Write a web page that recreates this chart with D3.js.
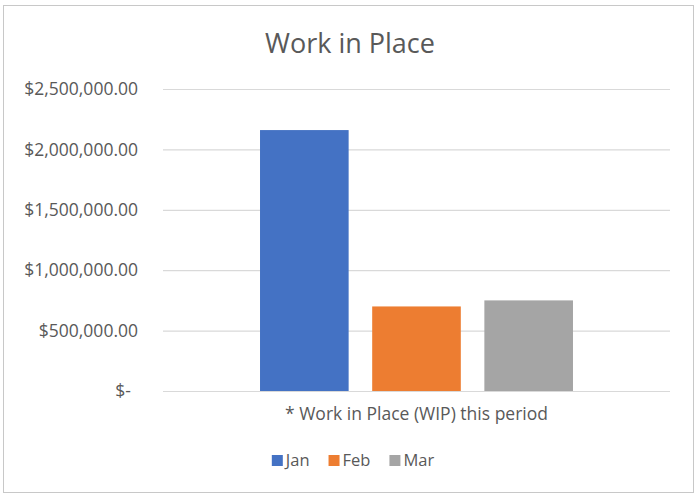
<!DOCTYPE html>
<html>
<head>
<meta charset="utf-8">
<script src="https://d3js.org/d3.v7.min.js"></script>
<style>
  body { margin: 0; background: #fff; }
  text { font-family: "Open Sans", sans-serif; fill: #595959; }
</style>
</head>
<body>
<div id="my_dataviz"></div>
<script>

// data
var category = "* Work in Place (WIP) this period";
var months = ["Jan", "Feb", "Mar"];
var values = [2160000, 700000, 750000];
var colors = ["#4472C4", "#ED7D31", "#A5A5A5"];
var yTicks = [0, 500000, 1000000, 1500000, 2000000, 2500000];

var width = 695, height = 495;

var svg = d3.select("#my_dataviz")
  .append("svg")
    .attr("width", width)
    .attr("height", height);

// chart border
svg.append("rect")
  .attr("x", 3.5).attr("y", 5.5)
  .attr("width", 690).attr("height", 487)
  .attr("fill", "#fff")
  .attr("stroke", "#c8c8c8")
  .attr("stroke-width", 1);

// plot area
var plot = {left: 163, right: 670, top: 89, bottom: 391};

var y = d3.scaleLinear()
  .domain([0, 2500000])
  .range([plot.bottom, plot.top]);

var x0 = d3.scaleBand()
  .domain([category])
  .range([plot.left, plot.right])
  .paddingOuter(0.31);

var x1 = d3.scaleBand()
  .domain(months)
  .range([x0(category), x0(category) + x0.bandwidth()])
  .paddingInner(0.21);

// title
svg.append("text")
  .attr("x", 350)
  .attr("y", 53)
  .attr("text-anchor", "middle")
  .style("font-size", "27px")
  .text("Work in Place");

// Y axis with gridlines
var fmt = d3.format(",.2f");
var yAxis = svg.append("g")
  .attr("transform", "translate(" + plot.left + ",0)")
  .call(d3.axisLeft(y)
    .tickValues(yTicks)
    .tickSize(-(plot.right - plot.left))
    .tickPadding(25)
    .tickFormat(function(d) { return d === 0 ? "$-" : "$" + fmt(d); }));

yAxis.select(".domain").remove();
yAxis.selectAll(".tick line")
  .attr("stroke", "#d9d9d9")
  .attr("stroke-width", 1.2);
yAxis.selectAll(".tick text")
  .style("font-size", "17.5px")
  .style("fill", "#595959")
  .attr("dx", function(d) { return d === 0 ? -7 : 0; });

// bars
svg.append("g")
  .selectAll("rect")
  .data(months)
  .enter()
  .append("rect")
    .attr("x", function(d) { return x1(d); })
    .attr("y", function(d, i) { return y(values[i]); })
    .attr("width", x1.bandwidth())
    .attr("height", function(d, i) { return y(0) - y(values[i]); })
    .attr("fill", function(d, i) { return colors[i]; });

// category label
svg.append("text")
  .attr("x", x0(category) + x0.bandwidth() / 2)
  .attr("y", 420)
  .attr("text-anchor", "middle")
  .style("font-size", "17.5px")
  .text(category);

// legend
var legend = svg.append("g");
var lx = 0;
months.forEach(function(m, i) {
  var item = legend.append("g").attr("transform", "translate(" + lx + ",0)");
  item.append("rect")
    .attr("x", 0).attr("y", -11)
    .attr("width", 11).attr("height", 11)
    .attr("fill", colors[i]);
  var t = item.append("text")
    .attr("x", 14)
    .attr("y", 0)
    .style("font-size", "16.5px")
    .text(m);
  lx += 14 + t.node().getComputedTextLength() + 19;
});
var legendW = lx - 19;
legend.attr("transform", "translate(" + (353 - legendW / 2) + ",466)");

</script>
</body>
</html>
